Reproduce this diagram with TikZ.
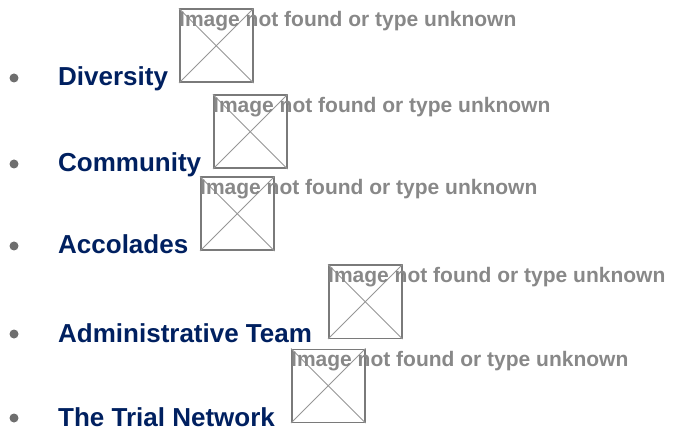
\documentclass[tikz,border=0pt]{standalone}
\usepackage{fontspec}
\setmainfont{Liberation Sans}
\usetikzlibrary{positioning,calc}
\definecolor{itemcolor}{RGB}{0,32,96}
\definecolor{msgcolor}{RGB}{136,136,136}
\definecolor{framecolor}{RGB}{122,122,122}
\definecolor{crosscolor}{RGB}{150,150,150}
\definecolor{dotcolor}{RGB}{110,110,110}

\begin{document}
\begin{tikzpicture}[x=1pt, y=-1pt,
  itemtext/.style={anchor=base west, inner sep=0pt,
    font=\fontsize{26}{28}\selectfont\bfseries, text=itemcolor},
  imgbox/.style={draw=framecolor, line width=1.5pt, minimum width=73pt,
    minimum height=73pt, inner sep=0pt, anchor=south west},
  msgtext/.style={anchor=base west, inner sep=0pt,
    font=\fontsize{21}{23}\selectfont\bfseries, text=msgcolor},
  crossline/.style={draw=crosscolor, line width=0.9pt},
  bulletdot/.style={circle, fill=dotcolor, inner sep=0pt, minimum size=9pt}]

  \useasboundingbox (0,0) rectangle (674,435);

  % one list entry: bullet, label, broken image placeholder
  \foreach \n/\lab/\base/\bx in {1/Diversity/86/179, 2/Community/172/213,
      3/Accolades/254/200, 4/Administrative Team/342/328,
      5/The Trial Network/426/291} {
    \node[bulletdot] (dot\n) at (14, \base-8) {};
    \node[itemtext] (txt\n) at (58, \base) {\lab};
    \node[imgbox] (img\n) at (\bx, \base-3) {};
    \draw[crossline] (img\n.north west) -- (img\n.south east);
    \draw[crossline] (img\n.north east) -- (img\n.south west);
    \node[msgtext] (msg\n) at ([yshift=-18pt]img\n.north west)
      {Image not found or type unknown};
  }

\end{tikzpicture}
\end{document}
